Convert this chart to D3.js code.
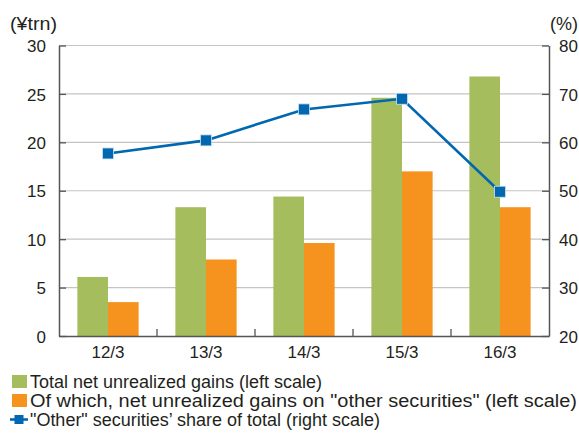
<!DOCTYPE html>
<html>
<head>
<meta charset="utf-8">
<script src="https://cdn.jsdelivr.net/npm/d3@7"></script>
<style>
  html, body { margin: 0; padding: 0; background: #fff; }
  svg { display: block; }
  text { font-family: "Liberation Sans", Arial, sans-serif; fill: #231f20; }
</style>
</head>
<body>
<svg id="chart" width="579" height="434"></svg>
<script>
// Fiscal year-end labels
const categories = ["12/3", "13/3", "14/3", "15/3", "16/3"];
// Total net unrealized gains (¥trn, left scale)
const totalGains = [6.1, 13.3, 14.4, 24.6, 26.8];
// Of which, gains on "other securities" (¥trn, left scale)
const otherGains = [3.5, 7.9, 9.6, 17.0, 13.3];
// "Other" securities' share of total (%, right scale)
const otherShare = [57.7, 60.4, 66.8, 69.0, 49.8];

const leftTicks = [0, 5, 10, 15, 20, 25, 30];
const rightTicks = [20, 30, 40, 50, 60, 70, 80];

const legendItems = [
  { label: "Total net unrealized gains (left scale)", kind: "bar", color: "#a6bd5e", width: 292 },
  { label: "Of which, net unrealized gains on \"other securities\" (left scale)", kind: "bar", color: "#f6921e", width: 547 },
  { label: "\"Other\" securities’ share of total (right scale)", kind: "line", color: "#0067b1", width: 350 }
];

const colors = { total: "#a6bd5e", other: "#f6921e", share: "#0067b1" };

const svg = d3.select("#chart");
const plot = { left: 59, right: 549, top: 45.5, bottom: 336 };

const x = d3.scaleBand().domain(categories).range([plot.left, plot.right]).paddingInner(0).paddingOuter(0);
const inner = d3.scaleBand().domain(["total", "other"]).range([0, x.bandwidth()]).paddingInner(0).paddingOuter(0.6);
const yL = d3.scaleLinear().domain([0, 30]).range([plot.bottom, plot.top]);
const yR = d3.scaleLinear().domain([20, 80]).range([plot.bottom, plot.top]);

// Horizontal gridlines
svg.append("g").selectAll("line").data(leftTicks.slice(1)).join("line")
  .attr("x1", plot.left).attr("x2", plot.right)
  .attr("y1", d => yL(d)).attr("y2", d => yL(d))
  .attr("stroke", "#c4c4c4").attr("stroke-width", 1.2);

// Bars
const groups = svg.append("g").selectAll("g").data(categories).join("g")
  .attr("transform", d => `translate(${x(d)},0)`);
groups.append("rect")
  .attr("x", inner("total")).attr("width", inner.bandwidth())
  .attr("y", (d, i) => yL(totalGains[i])).attr("height", (d, i) => yL(0) - yL(totalGains[i]))
  .attr("fill", colors.total);
groups.append("rect")
  .attr("x", inner("other")).attr("width", inner.bandwidth())
  .attr("y", (d, i) => yL(otherGains[i])).attr("height", (d, i) => yL(0) - yL(otherGains[i]))
  .attr("fill", colors.other);

// Axes
const axisColor = "#555";
const leftAxis = svg.append("g").attr("transform", `translate(${plot.left},0)`)
  .call(d3.axisLeft(yL).tickValues(leftTicks).tickSizeInner(-7).tickSizeOuter(0).tickPadding(13));
const rightAxis = svg.append("g").attr("transform", `translate(${plot.right},0)`)
  .call(d3.axisRight(yR).tickValues(rightTicks).tickSizeInner(-7).tickSizeOuter(0).tickPadding(10));
const bottomAxis = svg.append("g").attr("transform", `translate(0,${plot.bottom})`)
  .call(d3.axisBottom(x).tickSize(0).tickPadding(10));

[leftAxis, rightAxis, bottomAxis].forEach(g => {
  g.select(".domain").attr("stroke", axisColor).attr("stroke-width", 1.5);
  g.selectAll(".tick line").attr("stroke", axisColor).attr("stroke-width", 1.3);
  g.selectAll(".tick text").attr("font-size", 17).attr("fill", "#231f20")
    .attr("font-family", "\"Liberation Sans\", Arial, sans-serif");
});
leftAxis.selectAll(".tick text").attr("dy", "0.36em");
rightAxis.selectAll(".tick text").attr("dy", "0.36em");
bottomAxis.selectAll(".tick text").attr("dy", "0.71em");

// Category separators on the baseline
svg.append("g").selectAll("line").data(categories.slice(1)).join("line")
  .attr("x1", d => x(d)).attr("x2", d => x(d))
  .attr("y1", plot.bottom).attr("y2", plot.bottom - 7)
  .attr("stroke", axisColor).attr("stroke-width", 1.3);

// Unit labels
svg.append("text").attr("x", 10).attr("y", 30).attr("font-size", 17.5)
  .attr("textLength", 47).attr("lengthAdjust", "spacingAndGlyphs").text("(¥trn)");
svg.append("text").attr("x", 550).attr("y", 30).attr("font-size", 17.5)
  .attr("textLength", 28).attr("lengthAdjust", "spacingAndGlyphs").text("(%)");

// Share line with square markers
const line = d3.line().x((d, i) => x(categories[i]) + x.bandwidth() / 2).y(d => yR(d));
svg.append("path").datum(otherShare)
  .attr("d", line).attr("fill", "none").attr("stroke", colors.share).attr("stroke-width", 2.6);
const ms = 11;
svg.append("g").selectAll("rect").data(otherShare).join("rect")
  .attr("x", (d, i) => x(categories[i]) + x.bandwidth() / 2 - ms / 2)
  .attr("y", d => yR(d) - ms / 2)
  .attr("width", ms).attr("height", ms)
  .attr("fill", colors.share).attr("stroke", "#cfe0f0").attr("stroke-width", 0.8);

// Legend
const legend = svg.append("g");
const rowY = [381.5, 400.5, 419.5];
legendItems.forEach((item, i) => {
  const cy = rowY[i];
  if (item.kind === "bar") {
    legend.append("rect").attr("x", 12).attr("y", cy - 6.5).attr("width", 15).attr("height", 13).attr("fill", item.color);
  } else {
    legend.append("line").attr("x1", 10).attr("x2", 28).attr("y1", cy).attr("y2", cy)
      .attr("stroke", item.color).attr("stroke-width", 2.6);
    legend.append("rect").attr("x", 14.5).attr("y", cy - 4.5).attr("width", 9).attr("height", 9).attr("fill", item.color);
  }
  legend.append("text").attr("x", 30).attr("y", cy + 6.5).attr("font-size", 17.5)
    .attr("textLength", item.width).attr("lengthAdjust", "spacingAndGlyphs").text(item.label);
});
</script>
</body>
</html>
